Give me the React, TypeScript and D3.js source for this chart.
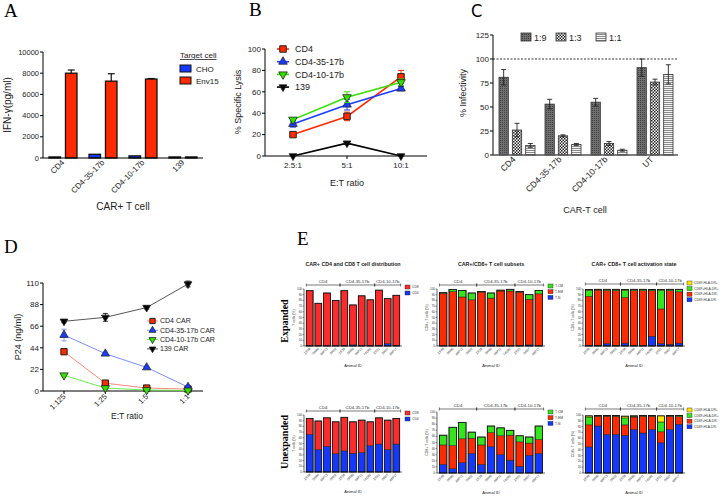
import React from 'react';
import * as d3 from 'd3';

const SANS = 'Liberation Sans, Arial, sans-serif';
const SERIF = 'Liberation Serif, Times New Roman, serif';

// ---------- Panel A ----------
const aCategories = ['CD4', 'CD4-35-17b', 'CD4-10-17b', '139'];
const aSeries = ['CHO', 'Env15'];
const aCHO = [100, 350, 200, 100];
const aEnv15 = [8000, 7250, 7450, 100];
const aEnv15Err = [300, 700, 50, 0];
const aTicks = [0, 2000, 4000, 6000, 8000, 10000];

// ---------- Panel B ----------
const bRatios = ['2.5:1', '5:1', '10:1'];
const bSeries = ['CD4', 'CD4-35-17b', 'CD4-10-17b', '139'];
const bCD4 = [20, 37, 74];
const bCD4Err = [1.5, 4, 6];
const b3517 = [30, 48, 63];
const b3517Err = [3, 5, 2];
const b1017 = [34, 55, 69];
const b1017Err = [1.5, 5, 3];
const b139 = [0, 12, 0];
const b139Err = [0, 1, 0];
const bTicks = [0, 20, 40, 60, 80, 100];

// ---------- Panel C ----------
const cCategories = ['CD4', 'CD4-35-17b', 'CD4-10-17b', 'UT'];
const cSeries = ['1:9', '1:3', '1:1'];
const c19 = [81, 53, 55, 91];
const c19Err = [8, 5, 4, 9];
const c13 = [26, 20, 12, 76];
const c13Err = [7, 1, 2, 3];
const c11 = [10, 11, 5, 84];
const c11Err = [2, 1, 1, 10];
const cTicks = [0, 25, 50, 75, 100, 125];

// ---------- Panel D ----------
const dRatios = ['1:125', '1:25', '1:5', '1:1'];
const dSeries = ['CD4 CAR', 'CD4-35-17b CAR', 'CD4-10-17b CAR', '139 CAR'];
const dCD4 = [40, 8, 3, 2];
const dCD4Err = [2, 2, 1, 1];
const d3517 = [57, 38, 24, 4];
const d3517Err = [6, 1.5, 1.5, 1];
const d1017 = [16, 3, 1, 0.5];
const d1017Err = [1.5, 1, 0.5, 0.3];
const d139 = [71, 75, 85, 109];
const d139Err = [1.5, 4, 1.5, 3];
const dTicks = [0, 22, 44, 66, 88, 110];

// ---------- Panel E ----------
const eAnimalIds = ['ZE48', 'DR60', 'A6P13', 'DR52', 'ZE38', 'DR69', 'A6P11', 'T4D62', 'ZE51', 'DR57', 'A6P17'];
const eGroups = ['CD4', 'CD4-35-17b', 'CD4-10-17b'];
const eGroupSizes = [4, 4, 3];
const eTicks = [0, 10, 20, 30, 40, 50, 60, 70, 80, 90, 100];

// Expanded
const expCD4 = [1, 0.5, 1, 0.5, 1, 2, 1, 1, 1, 4, 1];
const expCD8 = [96, 74.5, 92, 79.5, 96, 70, 87, 80, 97, 79, 88];
const expTN = [0.5, 0.5, 0.5, 1, 0.5, 2, 0.5, 0.5, 0.5, 2, 0.5];
const expTEM = [92, 95, 85.5, 80, 94, 82, 96, 96, 94, 80, 91];
const expTCM = [1, 3.5, 11.5, 12, 1, 9, 1.5, 3, 1, 8, 6];
const expNegNeg = [1, 1, 4, 1, 5, 1, 1, 17, 4, 3, 5];
const expPosNeg = [86, 97, 93, 96, 80, 96, 96, 80, 61, 94, 90];
const expPosPos = [11, 1, 2, 2, 13, 2, 2, 1.5, 33, 2, 4];
const expNegPos = [1, 0.5, 0.5, 0.5, 1, 0.5, 0.5, 0.5, 1, 0.5, 0.5];

// Unexpanded
const unCD4 = [66, 39, 45, 32, 37, 33, 34, 46, 49, 39, 49];
const unCD8 = [28, 50.5, 50, 56, 59, 55, 57, 42, 46, 52, 45];
const unTN = [14, 7, 17, 32, 14, 43, 30, 21, 11, 29, 32];
const unTEM = [32, 38, 39, 25, 32, 23, 31, 41, 40, 20, 23];
const unTCM = [16, 30, 27, 10, 13, 11, 13, 8, 10, 10, 22];
const unNegNeg = [45, 81, 66.5, 66.5, 65, 75, 69, 75, 52, 75, 84];
const unPosNeg = [38, 17, 31.5, 31.5, 18, 21.5, 29, 23, 19, 23, 13];
const unPosPos = [13.5, 0.5, 0.5, 0.5, 12, 1.5, 0.5, 0.5, 17, 0.5, 1.5];
const unNegPos = [2, 0.5, 0.5, 0.5, 3, 0.5, 0.5, 0.5, 10.5, 0.5, 0.5];

const RED = '#ff2a00';
const BLUE = '#1438ff';
const GREEN = '#33e51a';
const YELLOW = '#ffe600';

function sym(type: any, size: number) {
  return d3.symbol().type(type).size(size)() as string;
}

function Marker({ shape, x, y, fill, size }: any) {
  if (shape === 'square') {
    return <path d={sym(d3.symbolSquare, size)} transform={`translate(${x},${y})`} fill={fill} stroke="#222" strokeWidth={1} />;
  }
  if (shape === 'up') {
    return <path d={sym(d3.symbolTriangle, size)} transform={`translate(${x},${y})`} fill={fill} stroke="#222" strokeWidth={0.8} />;
  }
  return <path d={sym(d3.symbolTriangle, size)} transform={`translate(${x},${y}) rotate(180)`} fill={fill} stroke="#222" strokeWidth={0.8} />;
}

function VErr({ x, y1, y2, w, color, sw = 1 }: any) {
  return (
    <g stroke={color} strokeWidth={sw}>
      <line x1={x} x2={x} y1={y1} y2={y2} />
      <line x1={x - w / 2} x2={x + w / 2} y1={y1} y2={y1} />
      <line x1={x - w / 2} x2={x + w / 2} y1={y2} y2={y2} />
    </g>
  );
}

function YAxis({ x, scale, ticks, fs, tickLen = 3, sw = 1, fmt = (t: number) => String(t) }: any) {
  const [r0, r1] = scale.range();
  return (
    <g>
      <line x1={x} x2={x} y1={r0} y2={r1} stroke="#000" strokeWidth={sw} />
      {ticks.map((t: number) => (
        <g key={t}>
          <line x1={x - tickLen} x2={x} y1={scale(t)} y2={scale(t)} stroke="#000" strokeWidth={sw} />
          <text x={x - tickLen - 1} y={scale(t)} dy="0.35em" textAnchor="end" fontSize={fs} fill="#222">{fmt(t)}</text>
        </g>
      ))}
    </g>
  );
}

function PanelA() {
  const x = d3.scaleBand<string>().domain(aCategories).range([43, 203]);
  const xi = d3.scaleBand<string>().domain(aSeries).range([6, 34]).paddingInner(0.3);
  const y = d3.scaleLinear().domain([0, 10000]).range([158, 52]);
  const vals: any = { CHO: aCHO, Env15: aEnv15 };
  const cols: any = { CHO: BLUE, Env15: RED };
  return (
    <g>
      <text x={4} y={17} fontFamily={SERIF} fontSize={19}>A</text>
      {aCategories.map((c, i) =>
        aSeries.map((s) => {
          const v = vals[s][i];
          return <rect key={c + s} x={x(c)! + xi(s)!} y={y(v)} width={xi.bandwidth()} height={y(0) - y(v)} fill={cols[s]} stroke="#111" strokeWidth={1.3} />;
        })
      )}
      {aCategories.map((c, i) => {
        if (!aEnv15Err[i]) return null;
        const cx = x(c)! + xi('Env15')! + xi.bandwidth() / 2;
        return (
          <g key={'e' + c} stroke="#111" strokeWidth={1.2}>
            <line x1={cx} x2={cx} y1={y(aEnv15[i])} y2={y(aEnv15[i] + aEnv15Err[i])} />
            <line x1={cx - 3.5} x2={cx + 3.5} y1={y(aEnv15[i] + aEnv15Err[i])} y2={y(aEnv15[i] + aEnv15Err[i])} />
          </g>
        );
      })}
      <YAxis x={43} scale={y} ticks={aTicks} fs={7.5} />
      <line x1={43} x2={203} y1={158} y2={158} stroke="#000" strokeWidth={1} />
      {aCategories.map((c) => (
        <text key={'l' + c} transform={`translate(${x(c)! + x.bandwidth() / 2 + 2},${163}) rotate(-45)`} textAnchor="end" fontSize={8} fill="#222">{c}</text>
      ))}
      <text transform="translate(11,105) rotate(-90)" textAnchor="middle" fontSize={10} fill="#222">IFN-γ(pg/ml)</text>
      <text x={123} y={210} textAnchor="middle" fontSize={10} fill="#222">CAR+ T cell</text>
      <text x={180} y={58} fontSize={8} textDecoration="underline" fill="#222">Target cell</text>
      {aSeries.map((s, i) => (
        <g key={'lg' + s}>
          <rect x={180} y={65 + i * 12} width={11} height={7} fill={cols[s]} stroke="#111" strokeWidth={1} />
          <text x={196} y={71.5 + i * 12} fontSize={8} fill="#222">{s}</text>
        </g>
      ))}
    </g>
  );
}

function PanelB() {
  const x = d3.scalePoint<string>().domain(bRatios).range([293, 401]);
  const y = d3.scaleLinear().domain([0, 100]).range([156, 49]);
  const series = [
    { name: bSeries[0], v: bCD4, e: bCD4Err, c: '#ff2a00', shape: 'square', size: 42 },
    { name: bSeries[1], v: b3517, e: b3517Err, c: '#1a3cff', shape: 'up', size: 32 },
    { name: bSeries[2], v: b1017, e: b1017Err, c: '#33e000', shape: 'down', size: 32 },
    { name: bSeries[3], v: b139, e: b139Err, c: '#000', shape: 'down', size: 26 },
  ];
  const line = d3.line<number>().x((_, i) => x(bRatios[i])!).y((d) => y(d));
  return (
    <g>
      <text x={249} y={16} fontFamily={SERIF} fontSize={19}>B</text>
      <YAxis x={265} scale={y} ticks={bTicks} fs={8} />
      <line x1={265} x2={427} y1={156} y2={156} stroke="#000" strokeWidth={1.2} />
      {bRatios.map((r) => (
        <g key={r}>
          <line x1={x(r)} x2={x(r)} y1={156} y2={159} stroke="#000" />
          <text x={x(r)} y={168} textAnchor="middle" fontSize={8} fill="#222">{r}</text>
        </g>
      ))}
      {series.map((s) => (
        <g key={s.name}>
          <path d={line(s.v)!} fill="none" stroke={s.c} strokeWidth={1.6} />
          {s.v.map((v, i) => (s.e[i] > 0 ? <VErr key={i} x={x(bRatios[i])} y1={y(v - s.e[i])} y2={y(v + s.e[i])} w={6} color={s.c} sw={1} /> : null))}
          {s.v.map((v, i) => <Marker key={'m' + i} shape={s.shape} x={x(bRatios[i])} y={y(v)} fill={s.c} size={s.size} />)}
        </g>
      ))}
      {series.map((s, i) => (
        <g key={'lg' + s.name}>
          <line x1={277} x2={289} y1={49 + i * 12.7} y2={49 + i * 12.7} stroke={s.c} strokeWidth={1.6} />
          <Marker shape={s.shape} x={283} y={49 + i * 12.7} fill={s.c} size={s.size} />
          <text x={295} y={49 + i * 12.7} dy="0.35em" fontSize={9} fill="#222">{s.name}</text>
        </g>
      ))}
      <text transform="translate(241,102) rotate(-90)" textAnchor="middle" fontSize={9} fill="#222">% Specific Lysis</text>
      <text x={347} y={186} textAnchor="middle" fontSize={9} fill="#222">E:T ratio</text>
    </g>
  );
}

function PanelC() {
  const x = d3.scaleBand<string>().domain(cCategories).range([494, 678]);
  const xi = d3.scaleBand<string>().domain(cSeries).range([5, 41]).paddingInner(0.3);
  const y = d3.scaleLinear().domain([0, 125]).range([155, 35]);
  const vals: any = { '1:9': c19, '1:3': c13, '1:1': c11 };
  const errs: any = { '1:9': c19Err, '1:3': c13Err, '1:1': c11Err };
  const fills: any = { '1:9': 'url(#pat19)', '1:3': 'url(#pat13)', '1:1': 'url(#pat11)' };
  return (
    <g>
      <defs>
        <pattern id="pat19" width={2} height={2} patternUnits="userSpaceOnUse">
          <rect width={2} height={2} fill="#707070" />
          <rect width={1} height={1} fill="#404040" />
        </pattern>
        <pattern id="pat13" width={3} height={3} patternUnits="userSpaceOnUse">
          <rect width={3} height={3} fill="#fff" />
          <rect width={1.5} height={1.5} fill="#222" />
          <rect x={1.5} y={1.5} width={1.5} height={1.5} fill="#222" />
        </pattern>
        <pattern id="pat11" width={3} height={2} patternUnits="userSpaceOnUse">
          <rect width={3} height={2} fill="#f4f4f4" />
          <rect width={3} height={1} fill="#8a8a8a" />
        </pattern>
      </defs>
      <text x={471} y={17} fontFamily="DejaVu Sans Condensed, Open Sans, sans-serif" fontSize={18}>C</text>
      <line x1={493} x2={678} y1={y(100)} y2={y(100)} stroke="#000" strokeWidth={0.8} strokeDasharray="2,1.5" />
      {cCategories.map((c, i) =>
        cSeries.map((s) => {
          const v = vals[s][i];
          const bx = x(c)! + xi(s)!;
          const cx = bx + xi.bandwidth() / 2;
          return (
            <g key={c + s}>
              <rect x={bx} y={y(v)} width={xi.bandwidth()} height={y(0) - y(v)} fill={fills[s]} stroke="#333" strokeWidth={0.8} />
              <VErr x={cx} y1={y(v - errs[s][i])} y2={y(v + errs[s][i])} w={5} color="#222" sw={0.9} />
            </g>
          );
        })
      )}
      <YAxis x={493} scale={y} ticks={cTicks} fs={8} />
      <line x1={493} x2={678} y1={155} y2={155} stroke="#555" strokeWidth={1.6} />
      {cCategories.map((c) => (
        <text key={'l' + c} transform={`translate(${x(c)! + x.bandwidth() / 2 - 1},${160}) rotate(-45)`} textAnchor="end" fontSize={8.5} fill="#222">{c}</text>
      ))}
      <text transform="translate(466,93) rotate(-90)" textAnchor="middle" fontSize={9} fill="#222">% Infectivity</text>
      <text x={585} y={213} textAnchor="middle" fontSize={9} fill="#222">CAR-T cell</text>
      {cSeries.map((s, i) => {
        const lx = [521, 556, 596][i];
        return (
          <g key={'lg' + s}>
            <rect x={lx} y={33} width={10} height={8} fill={fills[s]} stroke="#333" strokeWidth={0.8} />
            <text x={lx + 13} y={40.5} fontSize={9} fill="#222">{s}</text>
          </g>
        );
      })}
    </g>
  );
}

function PanelD() {
  const x = d3.scalePoint<string>().domain(dRatios).range([64, 188]);
  const y = d3.scaleLinear().domain([0, 110]).range([391, 283]);
  const series = [
    { name: dSeries[0], v: dCD4, e: dCD4Err, c: '#ff2a00', lc: '#ff7a6a', shape: 'square', size: 40 },
    { name: dSeries[1], v: d3517, e: d3517Err, c: '#1a3cff', lc: '#6a80ff', shape: 'up', size: 30 },
    { name: dSeries[2], v: d1017, e: d1017Err, c: '#33e000', lc: '#5ae83a', shape: 'down', size: 30 },
    { name: dSeries[3], v: d139, e: d139Err, c: '#000', lc: '#444', shape: 'down', size: 26 },
  ];
  const line = d3.line<number>().x((_, i) => x(dRatios[i])!).y((d) => y(d));
  return (
    <g>
      <text x={4} y={253} fontFamily={SERIF} fontSize={19}>D</text>
      <YAxis x={43} scale={y} ticks={dTicks} fs={8} />
      <line x1={43} x2={203} y1={391} y2={391} stroke="#000" strokeWidth={1} />
      {dRatios.map((r) => (
        <g key={r}>
          <line x1={x(r)} x2={x(r)} y1={391} y2={394} stroke="#000" />
          <text transform={`translate(${x(r)! + 2},${397}) rotate(-45)`} textAnchor="end" fontSize={7.5} fill="#222">{r}</text>
        </g>
      ))}
      {series.map((s) => (
        <g key={s.name}>
          <path d={line(s.v)!} fill="none" stroke={s.lc} strokeWidth={0.9} />
          {s.v.map((v, i) => <VErr key={i} x={x(dRatios[i])} y1={y(Math.max(0, v - s.e[i]))} y2={y(v + s.e[i])} w={5} color={s.c === '#000' ? '#000' : s.lc} sw={0.8} />)}
          {s.v.map((v, i) => <Marker key={'m' + i} shape={s.shape} x={x(dRatios[i])} y={y(v)} fill={s.c} size={s.size} />)}
        </g>
      ))}
      {series.map((s, i) => (
        <g key={'lg' + s.name}>
          <line x1={147} x2={158} y1={321 + i * 9.3} y2={321 + i * 9.3} stroke={s.lc} strokeWidth={0.9} />
          <Marker shape={s.shape} x={152.5} y={321 + i * 9.3} fill={s.c} size={s.size * 0.7} />
          <text x={160} y={321 + i * 9.3} dy="0.35em" fontSize={7} fill="#222">{s.name}</text>
        </g>
      ))}
      <text transform="translate(21,337) rotate(-90)" textAnchor="middle" fontSize={9} fill="#222">P24 (ng/ml)</text>
      <text x={127} y={419} textAnchor="middle" fontSize={8.5} fill="#222">E:T ratio</text>
    </g>
  );
}

function Stacked({ x0, x1, yTop, yBot, keys, colors, values, legendLabels, legendX, legendY, legendStep, yLabel, bracketY }: any) {
  const idx = eAnimalIds.map((_, i) => String(i));
  const xs = d3.scaleBand<string>().domain(idx).range([x0 + 1, x1 - 1]).paddingInner(0.22).paddingOuter(0.15);
  const y = d3.scaleLinear().domain([0, 100]).range([yBot, yTop]);
  const rows = eAnimalIds.map((_, i) => {
    const o: any = {};
    keys.forEach((k: string, j: number) => (o[k] = values[j][i]));
    return o;
  });
  const stacked = d3.stack<any>().keys(keys)(rows);
  const bw = xs.bandwidth();
  const gap = xs.step() - bw;
  let start = 0;
  const groups = eGroups.map((g, gi) => {
    const s = start;
    const e = start + eGroupSizes[gi] - 1;
    start += eGroupSizes[gi];
    return { g, a: xs(String(s))! - gap / 2 + (gi === 0 ? gap / 2 : 0), b: xs(String(e))! + bw + gap / 2 };
  });
  return (
    <g>
      {stacked.map((layer, li) => (
        <g key={keys[li]}>
          {layer.map((d, i) => (
            <rect key={i} x={xs(String(i))} y={y(d[1])} width={bw} height={Math.max(0, y(d[0]) - y(d[1]))} fill={colors[li]} stroke="#222" strokeWidth={0.5} />
          ))}
        </g>
      ))}
      {rows.map((_, i) => {
        const top = stacked[stacked.length - 1][i][1];
        return <rect key={'o' + i} x={xs(String(i))} y={y(top)} width={bw} height={y(0) - y(top)} fill="none" stroke="#111" strokeWidth={0.8} />;
      })}
      <line x1={x0} x2={x0} y1={yTop} y2={yBot} stroke="#000" strokeWidth={0.6} />
      <line x1={x0} x2={x1} y1={yBot} y2={yBot} stroke="#000" strokeWidth={0.6} />
      {eTicks.map((t) => (
        <g key={t}>
          <line x1={x0 - 1.5} x2={x0} y1={y(t)} y2={y(t)} stroke="#000" strokeWidth={0.4} />
          <text x={x0 - 2} y={y(t)} dy="0.35em" textAnchor="end" fontSize={3} fill="#333">{t}</text>
        </g>
      ))}
      {eAnimalIds.map((id, i) => (
        <text key={id} transform={`translate(${xs(String(i))! + bw / 2 + 1},${yBot + 3}) rotate(-45)`} textAnchor="end" fontSize={3.2} fill="#333">{id}</text>
      ))}
      <text x={(x0 + x1) / 2} y={yBot + 21} textAnchor="middle" fontSize={4} fill="#222">Animal ID</text>
      <text transform={`translate(${x0 - 9},${(yTop + yBot) / 2}) rotate(-90)`} textAnchor="middle" fontSize={3.5} fill="#333">{yLabel}</text>
      {groups.map((g) => (
        <g key={g.g} stroke="#222" strokeWidth={0.6}>
          <line x1={g.a} x2={g.b} y1={bracketY} y2={bracketY} />
          <line x1={g.a} x2={g.a} y1={bracketY - 1.5} y2={bracketY + 1.5} />
          <line x1={g.b} x2={g.b} y1={bracketY - 1.5} y2={bracketY + 1.5} />
          <text x={(g.a + g.b) / 2} y={bracketY - 2.5} textAnchor="middle" fontSize={4.3} stroke="none" fill="#333">{g.g}</text>
        </g>
      ))}
      {legendLabels.map((l: string, i: number) => {
        const ci = keys.length - 1 - i;
        return (
          <g key={l}>
            <rect x={legendX} y={legendY + i * legendStep - 2} width={5} height={4} fill={colors[ci]} stroke="#222" strokeWidth={0.4} />
            <text x={legendX + 7} y={legendY + i * legendStep} dy="0.35em" fontSize={3.3} fill="#333">{l}</text>
          </g>
        );
      })}
    </g>
  );
}

function PanelE() {
  const actLegend = ['CD69-HLA-DR+', 'CD69+HLA-DR+', 'CD69+HLA-DR-', 'CD69-HLA-DR-'];
  return (
    <g>
      <text x={297} y={245} fontFamily={SERIF} fontSize={19}>E</text>
      <text x={353} y={266} textAnchor="middle" fontSize={5.3} fontWeight="bold" fill="#222">CAR+ CD4 and CD8 T cell distribution</text>
      <text x={491} y={266} textAnchor="middle" fontSize={5.3} fontWeight="bold" fill="#222">CAR+/CD8+ T cell subsets</text>
      <text x={634} y={266} textAnchor="middle" fontSize={5.3} fontWeight="bold" fill="#222">CAR+ CD8+ T cell activation state</text>
      <text transform="translate(288,321) rotate(-90)" textAnchor="middle" fontFamily={SERIF} fontWeight="bold" fontSize={10}>Expanded</text>
      <text transform="translate(288,442) rotate(-90)" textAnchor="middle" fontFamily={SERIF} fontWeight="bold" fontSize={10}>Unexpanded</text>

      <Stacked x0={304} x1={402} yTop={289} yBot={346} keys={['CD4', 'CD8']} colors={[BLUE, '#ff2a2a']} values={[expCD4, expCD8]}
        legendLabels={['CD8', 'CD4']} legendX={405} legendY={287} legendStep={6} yLabel="T cells (%)" bracketY={285} />
      <Stacked x0={437} x1={545} yTop={289} yBot={346} keys={['T-N', 'T-EM', 'T-CM']} colors={[BLUE, RED, GREEN]} values={[expTN, expTEM, expTCM]}
        legendLabels={['T-CM', 'T-EM', 'T-N']} legendX={548} legendY={286} legendStep={5.7} yLabel="CD8+ T cells (%)" bracketY={285} />
      <Stacked x0={583} x1={685} yTop={289} yBot={346} keys={['nn', 'pn', 'pp', 'np']} colors={[BLUE, RED, GREEN, YELLOW]} values={[expNegNeg, expPosNeg, expPosPos, expNegPos]}
        legendLabels={actLegend} legendX={687} legendY={283} legendStep={5.6} yLabel="CD8+ T cells (%)" bracketY={284} />

      <Stacked x0={304} x1={402} yTop={415} yBot={472} keys={['CD4', 'CD8']} colors={[BLUE, '#ff2a2a']} values={[unCD4, unCD8]}
        legendLabels={['CD8', 'CD4']} legendX={405} legendY={413} legendStep={6} yLabel="T cells (%)" bracketY={411} />
      <Stacked x0={437} x1={545} yTop={412} yBot={473} keys={['T-N', 'T-EM', 'T-CM']} colors={[BLUE, RED, GREEN]} values={[unTN, unTEM, unTCM]}
        legendLabels={['T-CM', 'T-EM', 'T-N']} legendX={548} legendY={412} legendStep={5.7} yLabel="CD8+ T cells (%)" bracketY={409} />
      <Stacked x0={583} x1={685} yTop={415} yBot={473} keys={['nn', 'pn', 'pp', 'np']} colors={[BLUE, RED, GREEN, YELLOW]} values={[unNegNeg, unPosNeg, unPosPos, unNegPos]}
        legendLabels={actLegend} legendX={687} legendY={410} legendStep={5.6} yLabel="CD8+ T cells (%)" bracketY={409} />
    </g>
  );
}

export default function App() {
  return (
    <svg width={725} height={498} style={{ position: 'absolute', left: 0, top: 0, background: '#fff' }} fontFamily={SANS}>
      <rect width={725} height={498} fill="#fff" />
      <PanelA />
      <PanelB />
      <PanelC />
      <PanelD />
      <PanelE />
    </svg>
  );
}
